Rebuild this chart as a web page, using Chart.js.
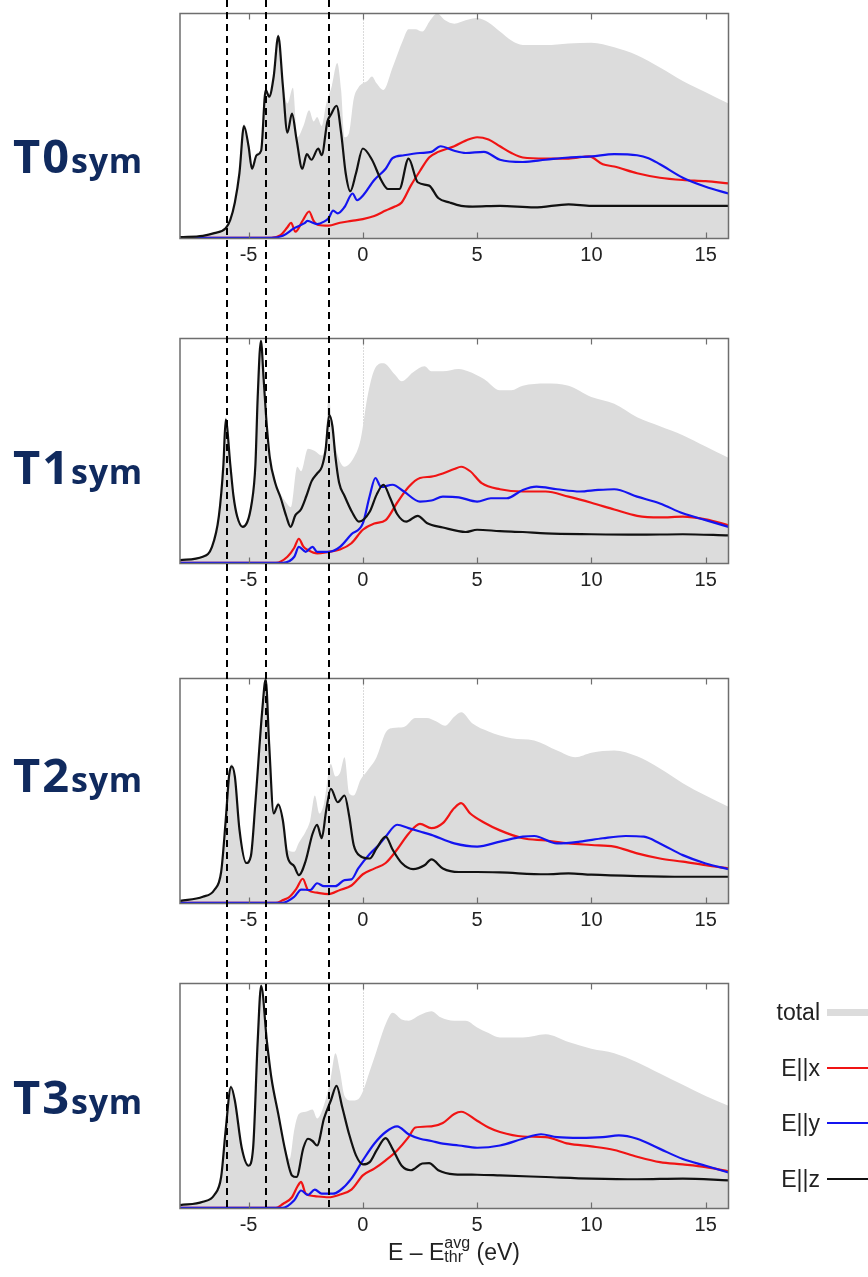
<!DOCTYPE html>
<html>
<head>
<meta charset="utf-8">
<script src="https://cdn.jsdelivr.net/npm/chart.js@4"></script>
<style>
  html, body { margin:0; padding:0; background:#fff; }
  body { width:868px; height:1277px; position:relative; overflow:hidden; }
  canvas.panel { position:absolute; left:0; }
  .tlab { position:absolute; left:13px; font-family:"Open Sans", sans-serif; font-weight:700; color:#102a5e; white-space:nowrap; line-height:1; }
  .tlab .big { font-size:47px; letter-spacing:2px; }
  .tlab .small { font-size:34px; letter-spacing:0.7px; }
  #legend { position:absolute; left:700px; top:0; width:168px; font-family:"Liberation Sans", Arial, sans-serif; font-size:23px; color:#222; }
  .lrow { position:absolute; left:0; width:168px; height:24px; }
  .lrow .txt { position:absolute; right:48px; top:0; line-height:24px; }
  .lrow .sw { position:absolute; left:127px; width:41px; }
  #xtitle { position:absolute; left:179px; width:550px; text-align:center; top:1236px; font-family:"Liberation Sans", Arial, sans-serif; font-size:23px; color:#222; white-space:nowrap; }
  #xtitle .ss { display:inline-block; vertical-align:-2px; font-size:16px; line-height:14px; text-align:left; }
  #xtitle .ss span { display:block; }
</style>
</head>
<body>
<canvas class="panel" id="c0" width="868" height="300" style="top:0px"></canvas>
<canvas class="panel" id="c1" width="868" height="340" style="top:300px"></canvas>
<canvas class="panel" id="c2" width="868" height="310" style="top:640px"></canvas>
<canvas class="panel" id="c3" width="868" height="327" style="top:950px"></canvas>

<div class="tlab" style="top:132px"><span class="big">T0</span><span class="small">sym</span></div>
<div class="tlab" style="top:443px"><span class="big">T1</span><span class="small">sym</span></div>
<div class="tlab" style="top:751px"><span class="big">T2</span><span class="small">sym</span></div>
<div class="tlab" style="top:1073px"><span class="big">T3</span><span class="small">sym</span></div>

<div id="legend"></div>
<div id="xtitle">E – E<span class="ss"><span>avg</span><span>thr</span></span> (eV)</div>

<script>
// ---------------- data ----------------
const xTicks = [-5, 0, 5, 10, 15];
const markerE = [-5.93, -4.24, -1.5];   // dashed reference energies (eV)
const zeroLine = 0;
const seriesLabels = ['total', 'E||x', 'E||y', 'E||z'];
const panelNames = ['T0', 'T1', 'T2', 'T3'];

// T0sym
const T0_total = [[-8,0.005],[-7,0.014],[-6.5,0.026],[-6,0.048],[-5.8,0.085],[-5.6,0.165],[-5.4,0.30],[-5.2,0.51],[-5.0,0.42],[-4.85,0.32],[-4.65,0.38],[-4.45,0.40],[-4.25,0.68],[-4.1,0.64],[-3.9,0.73],[-3.7,0.91],[-3.5,0.70],[-3.3,0.60],[-3.06,0.67],[-2.87,0.45],[-2.6,0.50],[-2.35,0.57],[-2.15,0.52],[-2.0,0.54],[-1.8,0.50],[-1.6,0.60],[-1.35,0.68],[-1.12,0.78],[-0.95,0.66],[-0.8,0.45],[-0.6,0.47],[-0.4,0.62],[-0.2,0.67],[0,0.69],[0.2,0.70],[0.4,0.72],[0.6,0.69],[0.9,0.66],[1.3,0.76],[1.75,0.88],[2.0,0.93],[2.3,0.93],[2.6,0.92],[2.95,0.97],[3.25,1.0],[3.6,0.97],[4.0,0.955],[4.5,0.97],[5.0,0.98],[5.5,0.96],[6.0,0.92],[6.5,0.88],[7,0.86],[8,0.86],[9,0.867],[10,0.87],[11,0.85],[12,0.815],[13,0.76],[14,0.70],[15,0.65],[16,0.60]];
const T0_x = [[-8,0.003],[-4,0.003],[-3.6,0.015],[-3.3,0.05],[-3.14,0.07],[-2.95,0.03],[-2.63,0.08],[-2.35,0.12],[-2.16,0.08],[-1.95,0.06],[-1.5,0.057],[-1.0,0.07],[-0.5,0.078],[0,0.086],[0.5,0.10],[1.0,0.124],[1.4,0.142],[1.7,0.16],[2.1,0.235],[2.5,0.30],[2.9,0.36],[3.3,0.385],[4.0,0.41],[4.5,0.435],[5.0,0.45],[5.5,0.44],[6.0,0.41],[6.5,0.38],[7,0.36],[8,0.355],[9,0.355],[9.9,0.365],[10.5,0.33],[11,0.32],[12,0.29],[13,0.27],[14,0.26],[15,0.255],[16,0.245]];
const T0_y = [[-8,0.003],[-4,0.003],[-3.5,0.012],[-3.0,0.046],[-2.55,0.068],[-2.43,0.078],[-2.0,0.064],[-1.7,0.075],[-1.5,0.09],[-1.3,0.124],[-1.1,0.112],[-0.8,0.14],[-0.45,0.20],[-0.25,0.17],[0,0.19],[0.5,0.26],[1.0,0.31],[1.3,0.357],[1.8,0.37],[2.5,0.38],[3.0,0.385],[3.4,0.41],[4.0,0.39],[4.5,0.38],[5.3,0.385],[6,0.35],[7,0.34],[8,0.35],[9,0.36],[10,0.365],[11,0.375],[12,0.37],[12.5,0.357],[13,0.33],[14,0.27],[15,0.23],[16,0.20]];
const T0_z = [[-8,0.006],[-7,0.012],[-6.5,0.024],[-6,0.046],[-5.8,0.083],[-5.6,0.16],[-5.4,0.29],[-5.2,0.50],[-5.0,0.41],[-4.85,0.31],[-4.65,0.37],[-4.45,0.39],[-4.25,0.66],[-4.1,0.63],[-3.9,0.72],[-3.7,0.90],[-3.5,0.68],[-3.3,0.47],[-3.1,0.555],[-2.9,0.44],[-2.65,0.31],[-2.45,0.375],[-2.25,0.35],[-1.95,0.40],[-1.8,0.37],[-1.55,0.52],[-1.4,0.55],[-1.15,0.59],[-0.95,0.47],[-0.75,0.29],[-0.55,0.21],[-0.3,0.29],[0,0.40],[0.4,0.35],[0.8,0.26],[1.1,0.22],[1.6,0.22],[2.0,0.355],[2.4,0.25],[2.9,0.235],[3.3,0.18],[3.8,0.16],[4.3,0.145],[4.8,0.142],[6,0.145],[7.5,0.138],[9,0.152],[10,0.145],[12,0.145],[14,0.145],[16,0.145]];

// T1sym
const T1_total = [[-8,0.016],[-7,0.032],[-6.6,0.076],[-6.3,0.215],[-6.1,0.45],[-6.0,0.65],[-5.8,0.45],[-5.66,0.31],[-5.5,0.22],[-5.26,0.17],[-4.86,0.28],[-4.7,0.45],[-4.6,0.75],[-4.46,1.0],[-4.34,0.83],[-4.23,0.66],[-4.07,0.48],[-3.83,0.37],[-3.6,0.31],[-3.35,0.27],[-3.15,0.25],[-2.87,0.43],[-2.7,0.41],[-2.4,0.51],[-2.1,0.50],[-1.8,0.48],[-1.62,0.55],[-1.5,0.75],[-1.35,0.62],[-1.2,0.52],[-0.8,0.43],[-0.4,0.47],[-0.1,0.55],[0.2,0.74],[0.5,0.86],[0.9,0.89],[1.4,0.84],[1.7,0.81],[2.2,0.85],[2.7,0.877],[3.0,0.855],[3.5,0.855],[4.2,0.865],[4.6,0.855],[5.3,0.82],[6,0.77],[6.5,0.77],[7,0.79],[8,0.80],[9,0.79],[10,0.74],[11,0.71],[12,0.65],[13,0.61],[14,0.57],[15,0.52],[16,0.47]];
const T1_x = [[-8,0.003],[-3.8,0.003],[-3.3,0.03],[-3.0,0.07],[-2.8,0.11],[-2.6,0.075],[-2.4,0.06],[-2.0,0.045],[-1.5,0.052],[-1.0,0.062],[-0.5,0.09],[0,0.15],[0.5,0.178],[1.0,0.193],[1.5,0.27],[2.0,0.34],[2.5,0.38],[3.0,0.386],[3.5,0.40],[4.0,0.42],[4.3,0.43],[4.7,0.41],[5.2,0.357],[6,0.33],[7,0.32],[8,0.32],[9,0.297],[10,0.27],[11,0.24],[12,0.212],[13,0.205],[14,0.208],[15,0.196],[16,0.17]];
const T1_y = [[-8,0.003],[-3.5,0.003],[-3.0,0.03],[-2.8,0.074],[-2.5,0.052],[-2.2,0.074],[-2.0,0.052],[-1.5,0.052],[-1.0,0.074],[-0.5,0.13],[0,0.178],[0.3,0.30],[0.55,0.38],[0.8,0.34],[1.3,0.35],[1.8,0.32],[2.5,0.275],[3.0,0.28],[3.5,0.297],[4.2,0.294],[5,0.275],[5.6,0.29],[6.3,0.29],[7,0.327],[7.6,0.342],[8.5,0.33],[9.5,0.32],[10.3,0.327],[11,0.33],[12,0.297],[13,0.267],[14,0.223],[15,0.193],[16,0.163]];
const T1_z = [[-8,0.015],[-7,0.03],[-6.6,0.074],[-6.3,0.21],[-6.1,0.44],[-6.0,0.64],[-5.8,0.44],[-5.66,0.30],[-5.5,0.21],[-5.26,0.163],[-4.86,0.27],[-4.7,0.44],[-4.6,0.74],[-4.46,0.99],[-4.34,0.82],[-4.23,0.65],[-4.07,0.47],[-3.83,0.357],[-3.59,0.29],[-3.35,0.21],[-3.16,0.163],[-2.95,0.215],[-2.71,0.24],[-2.47,0.30],[-2.24,0.366],[-2.0,0.40],[-1.79,0.43],[-1.63,0.505],[-1.47,0.66],[-1.33,0.61],[-1.2,0.475],[-1.04,0.36],[-0.8,0.30],[-0.48,0.23],[-0.17,0.186],[0.3,0.23],[0.6,0.305],[0.9,0.35],[1.2,0.29],[1.5,0.22],[1.9,0.186],[2.4,0.212],[2.8,0.18],[3.5,0.16],[4.5,0.14],[5,0.15],[6,0.144],[7,0.14],[8,0.134],[10,0.13],[12,0.128],[14,0.13],[16,0.125]];

// T2sym
const T2_total = [[-8,0.013],[-7,0.032],[-6.5,0.062],[-6.2,0.145],[-6.0,0.38],[-5.85,0.58],[-5.74,0.62],[-5.6,0.575],[-5.4,0.34],[-5.1,0.19],[-4.9,0.22],[-4.7,0.46],[-4.4,0.87],[-4.25,1.0],[-4.1,0.72],[-3.9,0.42],[-3.7,0.45],[-3.5,0.38],[-3.3,0.24],[-3.0,0.23],[-2.8,0.27],[-2.5,0.32],[-2.3,0.37],[-2.1,0.48],[-1.9,0.40],[-1.7,0.445],[-1.4,0.62],[-1.2,0.565],[-1.0,0.58],[-0.8,0.65],[-0.6,0.49],[-0.4,0.48],[-0.1,0.55],[0.2,0.59],[0.6,0.65],[1.0,0.76],[1.3,0.78],[1.8,0.785],[2.3,0.825],[2.8,0.825],[3.2,0.81],[3.6,0.79],[4.0,0.83],[4.3,0.85],[4.8,0.80],[5.5,0.765],[6.5,0.735],[7.5,0.725],[8.5,0.68],[9.3,0.65],[10,0.67],[11,0.68],[12,0.654],[13,0.60],[14,0.535],[15,0.48],[16,0.43]];
const T2_x = [[-8,0.003],[-3.8,0.003],[-3.5,0.015],[-3.2,0.03],[-2.9,0.067],[-2.63,0.11],[-2.4,0.06],[-2.0,0.048],[-1.5,0.042],[-1.0,0.06],[-0.5,0.08],[0,0.13],[0.5,0.155],[1.0,0.18],[1.5,0.24],[2.0,0.31],[2.5,0.354],[3.0,0.335],[3.5,0.357],[4.0,0.424],[4.3,0.446],[4.7,0.40],[5.3,0.36],[6,0.325],[7,0.29],[8,0.28],[9,0.267],[10,0.26],[11,0.253],[12,0.223],[13,0.20],[14,0.186],[15,0.17],[16,0.156]];
const T2_y = [[-8,0.003],[-3.5,0.003],[-3,0.03],[-2.7,0.062],[-2.3,0.06],[-2.0,0.09],[-1.7,0.077],[-1.2,0.077],[-0.8,0.104],[-0.5,0.107],[-0.2,0.156],[0.3,0.22],[0.7,0.26],[1.0,0.297],[1.5,0.35],[2.0,0.335],[2.5,0.32],[3.0,0.305],[4.0,0.267],[5.0,0.253],[6,0.275],[7,0.297],[7.5,0.30],[8.5,0.267],[9.5,0.275],[10.5,0.29],[11.5,0.30],[12.3,0.297],[13,0.267],[14,0.215],[15,0.178],[16,0.152]];
const T2_z = [[-8,0.012],[-7,0.03],[-6.5,0.06],[-6.2,0.14],[-6.0,0.37],[-5.85,0.57],[-5.74,0.61],[-5.6,0.565],[-5.4,0.33],[-5.1,0.18],[-4.9,0.21],[-4.7,0.45],[-4.4,0.86],[-4.25,0.996],[-4.1,0.71],[-3.9,0.40],[-3.7,0.44],[-3.5,0.37],[-3.3,0.21],[-3.0,0.165],[-2.8,0.126],[-2.5,0.19],[-2.2,0.31],[-2.0,0.35],[-1.8,0.29],[-1.6,0.416],[-1.4,0.51],[-1.1,0.45],[-0.8,0.48],[-0.6,0.39],[-0.4,0.26],[-0.1,0.21],[0.3,0.20],[0.6,0.245],[1.0,0.297],[1.3,0.24],[1.7,0.18],[2.2,0.153],[2.7,0.17],[3.0,0.196],[3.5,0.156],[4.2,0.14],[5,0.14],[6,0.138],[8,0.13],[9,0.134],[10,0.128],[12,0.122],[14,0.119],[16,0.119]];

// T3sym
const T3_total = [[-8,0.016],[-7,0.032],[-6.5,0.062],[-6.2,0.145],[-6.0,0.36],[-5.77,0.55],[-5.6,0.49],[-5.3,0.28],[-5.0,0.20],[-4.8,0.28],[-4.6,0.755],[-4.45,1.0],[-4.2,0.755],[-4.0,0.59],[-3.7,0.43],[-3.4,0.27],[-3.2,0.22],[-3.0,0.35],[-2.8,0.42],[-2.5,0.43],[-2.2,0.44],[-2.0,0.40],[-1.7,0.46],[-1.4,0.58],[-1.2,0.69],[-1.0,0.61],[-0.8,0.50],[-0.5,0.48],[-0.2,0.486],[0,0.52],[0.3,0.61],[0.6,0.70],[1.0,0.82],[1.3,0.87],[1.7,0.84],[2.0,0.835],[2.5,0.86],[3.0,0.877],[3.4,0.85],[4.0,0.835],[4.5,0.835],[5.0,0.805],[5.5,0.78],[6,0.76],[7,0.76],[8,0.775],[9,0.74],[10,0.71],[11,0.69],[12,0.65],[13,0.60],[14,0.55],[15,0.50],[16,0.457]];
const T3_x = [[-8,0.003],[-3.8,0.003],[-3.5,0.02],[-3.1,0.05],[-2.85,0.10],[-2.7,0.118],[-2.5,0.066],[-2.1,0.055],[-1.5,0.05],[-1.0,0.062],[-0.5,0.084],[0,0.147],[0.5,0.177],[1.0,0.214],[1.5,0.258],[2.0,0.317],[2.3,0.36],[3.0,0.365],[3.5,0.38],[4.0,0.42],[4.3,0.43],[5,0.39],[5.5,0.36],[6,0.34],[7,0.32],[8,0.317],[9,0.288],[10,0.276],[11,0.26],[12,0.23],[13,0.206],[14,0.196],[15,0.184],[16,0.165]];
const T3_y = [[-8,0.003],[-3.5,0.003],[-3.0,0.037],[-2.7,0.08],[-2.4,0.06],[-2.1,0.084],[-1.8,0.066],[-1.3,0.066],[-1.0,0.08],[-0.5,0.133],[0,0.214],[0.5,0.288],[1.0,0.34],[1.5,0.365],[2.0,0.33],[2.5,0.31],[3.0,0.30],[3.5,0.288],[4.2,0.28],[5,0.27],[6,0.28],[7,0.31],[7.8,0.33],[8.5,0.317],[9.5,0.314],[10.5,0.317],[11.2,0.325],[12,0.31],[13,0.265],[14,0.22],[15,0.19],[16,0.16]];
const T3_z = [[-8,0.015],[-7,0.03],[-6.5,0.06],[-6.2,0.14],[-6.0,0.35],[-5.77,0.54],[-5.6,0.48],[-5.3,0.27],[-5.0,0.19],[-4.8,0.27],[-4.6,0.745],[-4.45,0.99],[-4.2,0.745],[-4.0,0.58],[-3.7,0.42],[-3.4,0.26],[-3.1,0.147],[-2.9,0.14],[-2.6,0.27],[-2.4,0.31],[-2.2,0.30],[-2.0,0.28],[-1.7,0.40],[-1.4,0.48],[-1.15,0.545],[-0.9,0.45],[-0.6,0.33],[-0.3,0.236],[0,0.196],[0.3,0.206],[0.6,0.258],[1.0,0.313],[1.3,0.265],[1.7,0.19],[2.1,0.17],[2.6,0.20],[2.9,0.202],[3.3,0.17],[4,0.152],[5,0.15],[6,0.147],[8,0.14],[10,0.133],[12,0.13],[14,0.133],[16,0.125]];

// ---------------- styling / layout ----------------
const COLORS = { total:'#dcdcdc', x:'#f01414', y:'#1414f0', z:'#111111' };
const panels = [
  { total:T0_total, x:T0_x, y:T0_y, z:T0_z, canvas:'c0', pageTop:0,   areaTop:13.5, areaBot:238.5, h:300 },
  { total:T1_total, x:T1_x, y:T1_y, z:T1_z, canvas:'c1', pageTop:300, areaTop:38.5, areaBot:263.5, h:340 },
  { total:T2_total, x:T2_x, y:T2_y, z:T2_z, canvas:'c2', pageTop:640, areaTop:38.5, areaBot:263.5, h:310 },
  { total:T3_total, x:T3_x, y:T3_y, z:T3_z, canvas:'c3', pageTop:950, areaTop:33.5, areaBot:258.5, h:327, last:true },
];
const toXY = arr => arr.map(p => ({ x:p[0], y:p[1] }));

const decor = {
  id: 'decor',
  beforeDatasetsDraw(chart) {
    const { ctx, chartArea:a, scales:{ x } } = chart;
    const px = Math.round(x.getPixelForValue(zeroLine)) + 0.5;
    ctx.save();
    ctx.strokeStyle = '#b5b5b5'; ctx.lineWidth = 1; ctx.setLineDash([1, 2]);
    ctx.beginPath(); ctx.moveTo(px, a.top); ctx.lineTo(px, a.bottom); ctx.stroke();
    ctx.restore();
  },
  afterDatasetsDraw(chart) {
    const { ctx, chartArea:a, scales:{ x } } = chart;
    ctx.save();
    ctx.strokeStyle = '#6e6e6e'; ctx.lineWidth = 1.5;
    ctx.strokeRect(a.left, a.top, a.right - a.left, a.bottom - a.top);
    ctx.lineWidth = 1.2;
    x.ticks.forEach(t => {
      const px = Math.round(x.getPixelForValue(t.value)) + 0.5;
      ctx.beginPath();
      ctx.moveTo(px, a.bottom); ctx.lineTo(px, a.bottom - 6);
      ctx.moveTo(px, a.top); ctx.lineTo(px, a.top + 6);
      ctx.stroke();
    });
    ctx.restore();
  },
  afterDraw(chart, args, opts) {
    const { ctx, chartArea:a, scales:{ x } } = chart;
    ctx.save();
    ctx.strokeStyle = '#000'; ctx.lineWidth = 2;
    ctx.setLineDash([7, 5]);
    ctx.lineDashOffset = opts.pageTop || 0;
    const yEnd = opts.last ? a.bottom : chart.height;
    markerE.forEach(e => {
      const px = Math.round(x.getPixelForValue(e));
      ctx.beginPath(); ctx.moveTo(px, 0); ctx.lineTo(px, yEnd); ctx.stroke();
    });
    ctx.restore();
  }
};

let lastChart = null;
panels.forEach(p => {
  const axisH = p.h - p.areaBot;
  const line = (label, data, color, order) => ({
    label, data: toXY(data), borderColor: color, backgroundColor: color,
    borderWidth: 2.2, pointRadius: 0, fill: false, cubicInterpolationMode: 'monotone', order
  });
  const chart = new Chart(document.getElementById(p.canvas), {
    type: 'line',
    data: {
      datasets: [
        { label: seriesLabels[0], data: toXY(p.total), borderWidth: 0, borderColor: COLORS.total,
          backgroundColor: COLORS.total, fill: 'origin', pointRadius: 0, cubicInterpolationMode: 'monotone', order: 10 },
        line(seriesLabels[1], p.x, COLORS.x, 3),
        line(seriesLabels[2], p.y, COLORS.y, 2),
        line(seriesLabels[3], p.z, COLORS.z, 1),
      ]
    },
    options: {
      responsive: false, animation: false, devicePixelRatio: 1,
      layout: { padding: { left: 180, right: 868 - 728.5, top: p.areaTop, bottom: 0 } },
      plugins: { legend: { display: false }, tooltip: { enabled: false },
                 decor: { pageTop: p.pageTop, last: !!p.last } },
      scales: {
        x: {
          type: 'linear', min: -8, max: 16,
          afterBuildTicks: s => { s.ticks = xTicks.map(v => ({ value: v })); },
          afterFit: s => { s.height = axisH; },
          grid: { display: false, drawTicks: false }, border: { display: false },
          ticks: { autoSkip: false, maxRotation: 0, padding: 5, color: '#222',
                   font: { family: '"Liberation Sans", Arial, sans-serif', size: 20 } }
        },
        y: { type: 'linear', min: 0, max: 1, display: false }
      }
    },
    plugins: [decor]
  });
  lastChart = chart;
});

// HTML legend built from the last chart's datasets
const legend = document.getElementById('legend');
const rowsY = [1000, 1056, 1111, 1167];
lastChart.data.datasets.forEach((ds, i) => {
  const row = document.createElement('div');
  row.className = 'lrow';
  row.style.top = rowsY[i] + 'px';
  const t = document.createElement('span'); t.className = 'txt'; t.textContent = ds.label;
  const sw = document.createElement('span'); sw.className = 'sw';
  const thick = i === 0 ? 7 : 2;
  sw.style.height = thick + 'px';
  sw.style.top = (12 - thick / 2) + 'px';
  sw.style.background = i === 0 ? ds.backgroundColor : ds.borderColor;
  row.appendChild(t); row.appendChild(sw);
  legend.appendChild(row);
});
</script>
</body>
</html>
